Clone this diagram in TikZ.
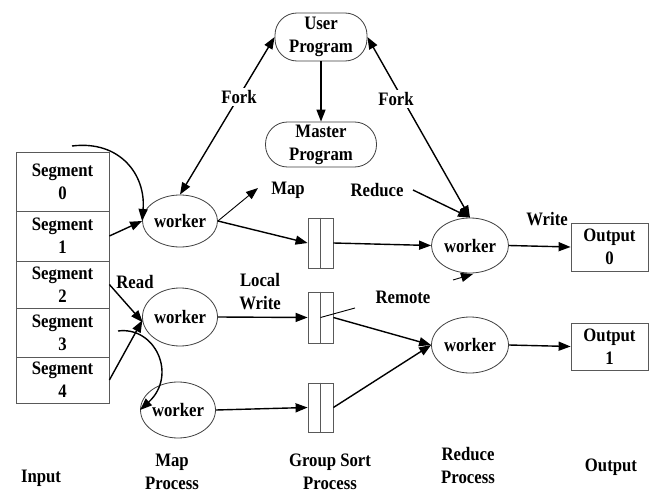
\documentclass[tikz,border=0pt]{standalone}
\usepackage{fontspec}
\setmainfont{Liberation Serif}[FakeStretch=0.88]
\usetikzlibrary{shapes.geometric,arrows.meta}
\newcommand\dgfont{\bfseries\fontsize{19}{23}\selectfont}
\begin{document}
\begin{tikzpicture}[x=1pt,y=-1pt,
  every node/.style={font=\dgfont, inner sep=0pt, text=black},
  segbox/.style={draw=black!65, line width=0.8pt, rectangle, minimum width=93pt, align=center},
  worker/.style={draw=black!75, line width=0.8pt, ellipse, minimum width=75pt, minimum height=55pt},
  prog/.style={draw=black!75, line width=0.8pt, rectangle, rounded corners=22pt, align=center},
  outbox/.style={draw=black!65, line width=0.8pt, rectangle, minimum width=77pt, minimum height=48pt, align=center},
  gbox/.style={draw=black!65, line width=0.8pt, rectangle, minimum width=25pt, minimum height=50pt},
  arr/.style={-{Triangle[length=12pt,width=9pt]}, line width=1.4pt},
  darr/.style={{Triangle[length=12pt,width=9pt]}-{Triangle[length=12pt,width=9pt]}, line width=1.4pt},
  thinarr/.style={-{Triangle[length=12pt,width=9pt]}, line width=0.9pt},
  lbl/.style={align=center},
  forklbl/.style={fill=white, inner sep=2pt},
]
\useasboundingbox (0,0) rectangle (651,495);
\fill[white] (0,0) rectangle (651,495);

% input segments
\node[segbox, minimum height=59pt] (s0) at (62.5,181.5) {Segment\\0};
\node[segbox, minimum height=50pt] (s1) at (62.5,236) {Segment\\1};
\node[segbox, minimum height=47pt] (s2) at (62.5,284.5) {Segment\\2};
\node[segbox, minimum height=49pt] (s3) at (62.5,332.5) {Segment\\3};
\node[segbox, minimum height=46pt] (s4) at (62.5,380) {Segment\\4};

% programs
\node[prog, minimum width=92pt, minimum height=48pt] (up) at (321,37) {User\\Program};
\node[prog, minimum width=111pt, minimum height=45pt] (mp) at (321,144.5) {Master\\Program};

% map workers
\node[worker, minimum height=52pt] (w1) at (180,221) {worker};
\node[worker, minimum height=58pt] (w2) at (180,317) {worker};
\node[worker, minimum height=56pt] (w3) at (178,410) {worker};

% group sort boxes
\node[gbox] (g1) at (320.5,243) {};
\node[gbox, minimum height=51pt] (g2) at (320.5,317.5) {};
\node[gbox, minimum height=49pt] (g3) at (320.5,407.5) {};
\draw[draw=black!65, line width=0.8pt] (g1.north) -- (g1.south);
\draw[draw=black!65, line width=0.8pt] (g2.north) -- (g2.south);
\draw[draw=black!65, line width=0.8pt] (g3.north) -- (g3.south);

% reduce workers
\node[worker, minimum width=77pt, minimum height=55pt] (r1) at (470,245.5) {worker};
\node[worker, minimum width=77pt, minimum height=56pt] (r2) at (470,345) {worker};

% outputs
\node[outbox] (o0) at (609.5,247) {Output\\0};
\node[outbox, minimum height=47pt] (o1) at (609.5,346.5) {Output\\1};

% free coordinates
\coordinate (topc) at (72,146);
\coordinate (midc) at (118,331);
\coordinate (maptip) at (258,188);
\coordinate (redstart) at (413,190);
\coordinate (remend) at (355,308);
\coordinate (rema) at (453,280);
\coordinate (remb) at (473,274);

% connectors
\draw[arr] (up) -- (mp);
\draw[darr] (w1.north) -- (up.west);
\draw[darr] (up.east) -- (r1.north);
\draw[arr] (redstart) -- (r1.north);
\draw[thinarr] (w1.east) -- (maptip);
\draw[arr] (w1.east) -- (g1.west);
\draw[arr] (g1.east) -- (r1.west);
\draw[arr] (r1.east) -- (o0.west);
\draw[arr] (w2.east) -- (g2.west);
\draw[arr] (w3.east) -- (g3.west);
\draw[line width=0.9pt] (g2.center) -- (remend);
\draw[arr] (g2.east) -- (r2.west);
\draw[arr] (g3.east) -- (r2.west);
\draw[arr] (r2.east) -- (o1.west);
\draw[thinarr] (rema) -- (remb);

\draw[arr] (s1.east) -- (w1.west);
\draw[arr] (topc) .. controls (120,140) and (146,175) .. (w1.west);
\draw[arr] (s2.east) -- (w2.188);
\draw[arr] (s4.east) -- (w2.185);
\draw[arr] (midc) .. controls (155,326) and (178,375) .. (w3.west);

% labels
\node[forklbl] (fk1) at (239,97) {Fork};
\node[forklbl] (fk2) at (396,99) {Fork};
\node (lmap) at (288,190) {Map};
\node (lred) at (377,190) {Reduce};
\node (lwrite) at (547,219) {Write};
\node (lread) at (135,282) {Read};
\node[lbl] (llw) at (260,292) {Local\\Write};
\node (lrem) at (403,297) {Remote};

% column captions
\node (cin) at (41,478) {Input};
\node[lbl] (cmap) at (172,472) {Map\\Process};
\node[lbl] (cgs) at (330,472) {Group Sort\\Process};
\node[lbl] (cred) at (468,465) {Reduce\\Process};
\node (cout) at (611,467) {Output};
\end{tikzpicture}
\end{document}
